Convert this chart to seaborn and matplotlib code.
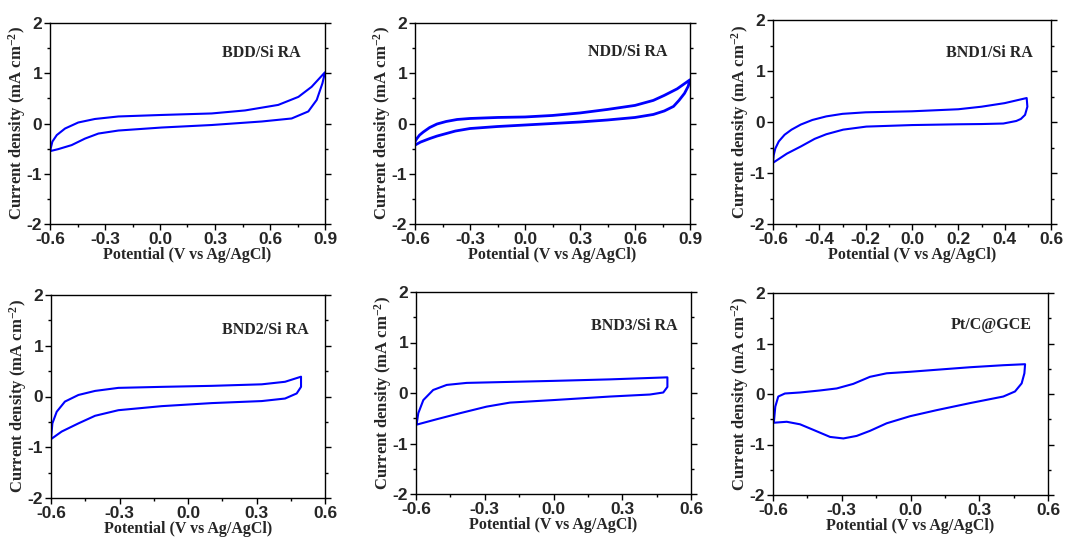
import numpy as np
import pandas as pd
import matplotlib
matplotlib.use("Agg")
import matplotlib.pyplot as plt
import seaborn as sns
from matplotlib.ticker import MultipleLocator, FormatStrFormatter

# ---- cyclic voltammetry sweeps: potential (V vs Ag/AgCl), current density (mA cm^-2)
# BDD/Si RA
bdd_fwd_E = [-0.60, -0.595, -0.587, -0.563, -0.518, -0.446, -0.355, -0.227, 0.009, 0.282, 0.464, 0.645, 0.755, 0.827, 0.90]
bdd_fwd_j = [-0.55, -0.48, -0.36, -0.23, -0.10, 0.02, 0.09, 0.14, 0.17, 0.20, 0.26, 0.37, 0.53, 0.73, 1.02]
bdd_rev_E = [0.90, 0.886, 0.855, 0.809, 0.718, 0.555, 0.282, 0.009, -0.227, -0.336, -0.409, -0.482, -0.555, -0.60]
bdd_rev_j = [1.02, 0.80, 0.47, 0.24, 0.10, 0.04, -0.03, -0.08, -0.14, -0.20, -0.30, -0.43, -0.51, -0.55]

# NDD/Si RA
ndd_fwd_E = [-0.60, -0.59, -0.575, -0.555, -0.52, -0.48, -0.43, -0.37, -0.30, -0.15, 0.00, 0.15, 0.30, 0.45, 0.60, 0.70, 0.76, 0.83, 0.90]
ndd_fwd_j = [-0.36, -0.30, -0.23, -0.17, -0.08, -0.01, 0.04, 0.08, 0.10, 0.12, 0.13, 0.16, 0.21, 0.28, 0.36, 0.46, 0.56, 0.69, 0.87]
ndd_rev_E = [0.90, 0.89, 0.87, 0.84, 0.81, 0.76, 0.70, 0.60, 0.45, 0.30, 0.15, 0.00, -0.15, -0.30, -0.38, -0.43, -0.48, -0.52, -0.57, -0.60]
ndd_rev_j = [0.87, 0.74, 0.60, 0.46, 0.34, 0.25, 0.18, 0.12, 0.07, 0.03, 0.00, -0.03, -0.06, -0.10, -0.15, -0.20, -0.25, -0.30, -0.37, -0.43]

# BND1/Si RA
bnd1_fwd_E = [-0.60, -0.597, -0.59, -0.575, -0.55, -0.52, -0.48, -0.43, -0.37, -0.30, -0.20, 0.00, 0.20, 0.30, 0.40, 0.495]
bnd1_fwd_j = [-0.78, -0.65, -0.52, -0.38, -0.25, -0.15, -0.05, 0.04, 0.11, 0.16, 0.19, 0.21, 0.25, 0.30, 0.37, 0.47]
bnd1_rev_E = [0.495, 0.498, 0.488, 0.47, 0.45, 0.394, 0.30, 0.20, 0.00, -0.197, -0.297, -0.37, -0.42, -0.48, -0.54, -0.60]
bnd1_rev_j = [0.47, 0.30, 0.14, 0.06, 0.02, -0.03, -0.04, -0.045, -0.06, -0.09, -0.15, -0.24, -0.33, -0.48, -0.62, -0.80]

# BND2/Si RA
bnd2_fwd_E = [-0.60, -0.594, -0.575, -0.539, -0.480, -0.407, -0.305, -0.115, 0.104, 0.323, 0.425, 0.495]
bnd2_fwd_j = [-0.84, -0.53, -0.30, -0.10, 0.03, 0.11, 0.17, 0.19, 0.21, 0.24, 0.29, 0.39]
bnd2_rev_E = [0.495, 0.495, 0.476, 0.425, 0.323, 0.104, -0.115, -0.305, -0.407, -0.480, -0.553, -0.60]
bnd2_rev_j = [0.39, 0.19, 0.06, -0.04, -0.09, -0.13, -0.19, -0.27, -0.38, -0.53, -0.69, -0.84]

# BND3/Si RA
bnd3_fwd_E = [-0.60, -0.597, -0.590, -0.568, -0.525, -0.466, -0.379, -0.19, 0.00, 0.247, 0.497]
bnd3_fwd_j = [-0.63, -0.61, -0.40, -0.14, 0.06, 0.16, 0.20, 0.22, 0.24, 0.27, 0.31]
bnd3_rev_E = [0.497, 0.497, 0.479, 0.421, 0.247, 0.00, -0.19, -0.292, -0.408, -0.51, -0.60]
bnd3_rev_j = [0.31, 0.12, 0.01, -0.03, -0.07, -0.14, -0.19, -0.27, -0.40, -0.52, -0.63]

# Pt/C@GCE
ptc_fwd_E = [-0.60, -0.596, -0.59, -0.577, -0.548, -0.482, -0.395, -0.322, -0.25, -0.177, -0.104, -0.002, 0.114, 0.26, 0.405, 0.50]
ptc_fwd_j = [-0.57, -0.55, -0.25, -0.05, 0.01, 0.03, 0.07, 0.11, 0.20, 0.34, 0.41, 0.44, 0.48, 0.53, 0.57, 0.59]
ptc_rev_E = [0.50, 0.497, 0.485, 0.456, 0.405, 0.26, 0.114, -0.002, -0.104, -0.177, -0.235, -0.293, -0.351, -0.424, -0.482, -0.54, -0.60]
ptc_rev_j = [0.59, 0.41, 0.21, 0.05, -0.05, -0.18, -0.32, -0.44, -0.58, -0.73, -0.83, -0.88, -0.85, -0.71, -0.60, -0.55, -0.57]

panel_names = ["BDD/Si RA", "NDD/Si RA", "BND1/Si RA", "BND2/Si RA", "BND3/Si RA", "Pt/C@GCE"]
x_limits = [(-0.6, 0.9), (-0.6, 0.9), (-0.6, 0.6), (-0.6, 0.6), (-0.6, 0.6), (-0.6, 0.6)]
x_steps = [0.3, 0.3, 0.2, 0.3, 0.3, 0.3]

sweeps = [
    (bdd_fwd_E, bdd_fwd_j, bdd_rev_E, bdd_rev_j),
    (ndd_fwd_E, ndd_fwd_j, ndd_rev_E, ndd_rev_j),
    (bnd1_fwd_E, bnd1_fwd_j, bnd1_rev_E, bnd1_rev_j),
    (bnd2_fwd_E, bnd2_fwd_j, bnd2_rev_E, bnd2_rev_j),
    (bnd3_fwd_E, bnd3_fwd_j, bnd3_rev_E, bnd3_rev_j),
    (ptc_fwd_E, ptc_fwd_j, ptc_rev_E, ptc_rev_j),
]

sns.set_theme(style="ticks")
plt.rcParams.update({
    "font.family": ["Liberation Sans", "DejaVu Sans"],
    "font.weight": "bold",
    "axes.unicode_minus": False,
    "mathtext.fontset": "custom",
    "mathtext.rm": "Liberation Serif:bold",
    "mathtext.bf": "Liberation Serif:bold",
    "mathtext.it": "Liberation Serif:bold",
    "mathtext.default": "bf",
    "axes.linewidth": 1.0,
    "axes.edgecolor": "black",
})

W, H = 1066, 538
fig = plt.figure(figsize=(W / 100, H / 100), dpi=100)
fig.patch.set_facecolor("white")

# axes boxes in pixels: left, top, right, bottom
boxes = [
    (50, 23, 325, 224),
    (415, 23, 690, 224),
    (773, 20, 1051, 224),
    (51, 295, 325, 498),
    (416, 292, 691, 494),
    (773, 293, 1048, 495),
]
label_pos = [(0.91, 0.85), (0.916, 0.856), (0.935, 0.84), (0.94, 0.83), (0.95, 0.83), (0.94, 0.84)]

serif = ["Liberation Serif", "DejaVu Serif"]
sans = ["Liberation Sans", "DejaVu Sans"]

for i in range(6):
    l, t, r, b = boxes[i]
    aw, ah = r - l, b - t
    ax = fig.add_axes([l / W, 1 - b / H, aw / W, ah / H])
    fE, fj, rE, rj = sweeps[i]
    loop = pd.DataFrame({
        "E": list(fE) + list(rE),
        "j": list(fj) + list(rj),
    })
    sns.lineplot(data=loop, x="E", y="j", sort=False, estimator=None,
                 color="#0000ff", linewidth=1.5 if i != 1 else 2.0, ax=ax)
    ax.set_xlim(*x_limits[i])
    ax.set_ylim(-2, 2)
    ax.xaxis.set_major_locator(MultipleLocator(x_steps[i]))
    ax.xaxis.set_minor_locator(MultipleLocator(x_steps[i] / 2))
    ax.yaxis.set_major_locator(MultipleLocator(1))
    ax.yaxis.set_minor_locator(MultipleLocator(0.5))
    ax.xaxis.set_major_formatter(FormatStrFormatter("%.1f"))
    ax.yaxis.set_major_formatter(FormatStrFormatter("%d"))
    ax.tick_params(which="both", direction="out", left=True, right=True,
                   bottom=True, top=False, color="black", width=1.0)
    ax.tick_params(which="major", length=4, labelsize=12.5, pad=1.5)
    ax.tick_params(which="minor", length=2.5)
    for lab in ax.get_xticklabels() + ax.get_yticklabels():
        lab.set_fontfamily(sans)
        lab.set_fontweight("bold")
    for s in ax.spines.values():
        s.set_visible(True)
        s.set_color("black")
        s.set_linewidth(1.0)
    ax.set_xlabel("Potential (V vs Ag/AgCl)", family=serif, fontweight="bold",
                  fontsize=11.5)
    ax.set_ylabel("Current density (mA cm$^{-2}$)", family=serif, fontweight="bold",
                  fontsize=12)
    ax.xaxis.set_label_coords(0.5, -23 / ah)
    ax.yaxis.set_label_coords(-22 / aw, 0.5)
    ax.text(label_pos[i][0], label_pos[i][1], panel_names[i], transform=ax.transAxes,
            ha="right", va="center", family=serif, fontweight="bold", fontsize=11.5)
    ax.set_facecolor("white")

fig.savefig("out.png", dpi=100, facecolor="white")
